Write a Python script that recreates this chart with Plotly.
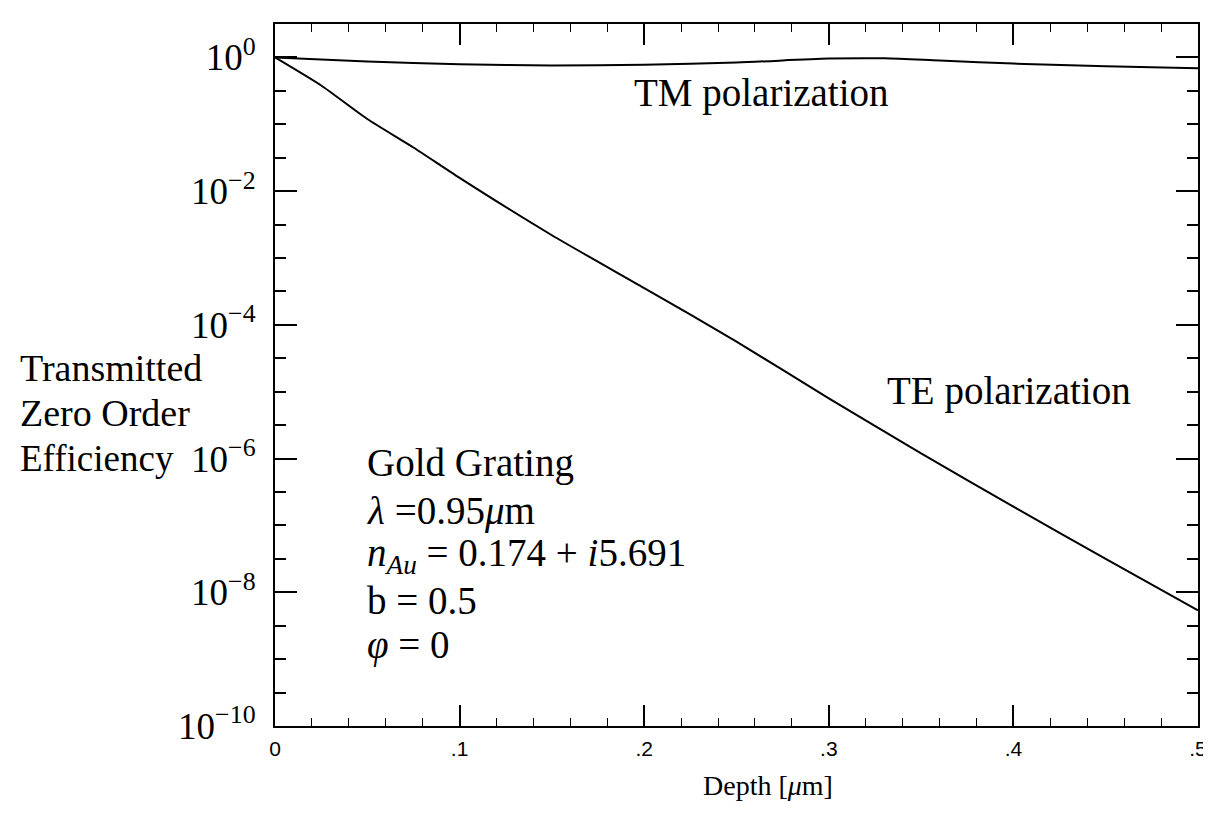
import plotly.graph_objects as go

# ---- data ----
depth_tm = [0.0, 0.05, 0.10, 0.15, 0.20, 0.25, 0.30, 0.33, 0.36, 0.40, 0.45, 0.50]
eff_tm = [1.0, 0.87, 0.79, 0.76, 0.78, 0.84, 0.96, 0.97, 0.90, 0.81, 0.74, 0.69]

depth_te = [0.0, 0.025, 0.05, 0.075, 0.10, 0.15, 0.20, 0.25, 0.30, 0.35, 0.40, 0.45, 0.50]
eff_te = [1.0, 0.38, 0.12, 0.045, 0.0158, 2.19e-3, 3.55e-4, 5.62e-5, 7.94e-6,
          1.20e-6, 1.91e-7, 3.16e-8, 5.37e-9]

x_tickvals = [0, 0.1, 0.2, 0.3, 0.4, 0.5]
x_ticktext = ["0", ".1", ".2", ".3", ".4", ".5"]
y_tickvals = [1, 1e-2, 1e-4, 1e-6, 1e-8, 1e-10]
y_ticktext = ["10<sup>0</sup>", "10<sup>−2</sup>", "10<sup>−4</sup>",
              "10<sup>−6</sup>", "10<sup>−8</sup>", "10<sup>−10</sup>"]
y_minor = [10 ** (-k / 2) for k in range(-1, 21)]

SERIF = "Liberation Serif"
TXT = 39

fig = go.Figure()
fig.add_trace(go.Scatter(x=depth_tm, y=eff_tm, mode="lines",
                         line=dict(color="black", width=2, shape="spline", smoothing=0.8),
                         name="TM"))
fig.add_trace(go.Scatter(x=depth_te, y=eff_te, mode="lines",
                         line=dict(color="black", width=2, shape="spline", smoothing=0.6),
                         name="TE"))

fig.update_layout(
    width=1211, height=836, autosize=False,
    margin=dict(l=267, r=21, t=16, b=118),
    paper_bgcolor="white", plot_bgcolor="white",
    showlegend=False,
    font=dict(family=SERIF, color="black"),
)

fig.update_xaxes(
    range=[0, 0.5], tickmode="array", tickvals=x_tickvals, ticktext=x_ticktext,
    ticks="inside", ticklen=21, tickwidth=1.5, tickcolor="black",
    showline=True, linewidth=2, linecolor="black", mirror="ticks",
    showgrid=False, zeroline=False,
    tickfont=dict(family="Liberation Sans", size=21, color="black"),
    ticklabelstandoff=3,
    minor=dict(dtick=0.02, tick0=0, ticks="inside", ticklen=8,
               tickwidth=1.2, tickcolor="black", showgrid=False),
)
fig.update_yaxes(
    type="log", range=[-10, 0.5], tickmode="array",
    tickvals=y_tickvals, ticktext=y_ticktext,
    ticks="inside", ticklen=22, tickwidth=1.5, tickcolor="black",
    showline=True, linewidth=2, linecolor="black", mirror="ticks",
    showgrid=False, zeroline=False,
    tickfont=dict(family=SERIF, size=37, color="black"),
    ticklabelstandoff=10,
    minor=dict(tickmode="array", tickvals=y_minor, ticks="inside", ticklen=11,
               tickwidth=1.5, tickcolor="black", showgrid=False),
)

def px_x(px):
    return (px - 267) / 923.0

def px_y(py):
    return (718 - py) / 702.0

annots = [
    ("TM polarization", 624, 85, TXT, "left"),
    ("TE polarization", 877, 383, TXT, "left"),
    ("Gold Grating", 357, 455, TXT, "left"),
    ("<i>λ</i> =0.95<i>μ</i>m", 357, 503, TXT, "left"),
    ("<i>n</i><sub><i>Au</i></sub> = 0.174 + <i>i</i>5.691", 357, 547, TXT, "left"),
    ("b = 0.5", 357, 592, TXT, "left"),
    ("<i>φ</i> = 0", 357, 637, TXT, "left"),
    ("Transmitted", 10, 360, 38, "left"),
    ("Zero Order", 10, 405, 38, "left"),
    ("Efficiency", 10, 450, 37, "left"),
    ("Depth [<i>μ</i>m]", 760, 778, 28, "center"),
]
for text, x, y, size, anchor in annots:
    fig.add_annotation(
        text=text, x=px_x(x), y=px_y(y), xref="paper", yref="paper",
        xanchor=anchor, yanchor="middle", showarrow=False,
        font=dict(family=SERIF, size=size, color="black"),
    )

fig.write_html("out.html")
